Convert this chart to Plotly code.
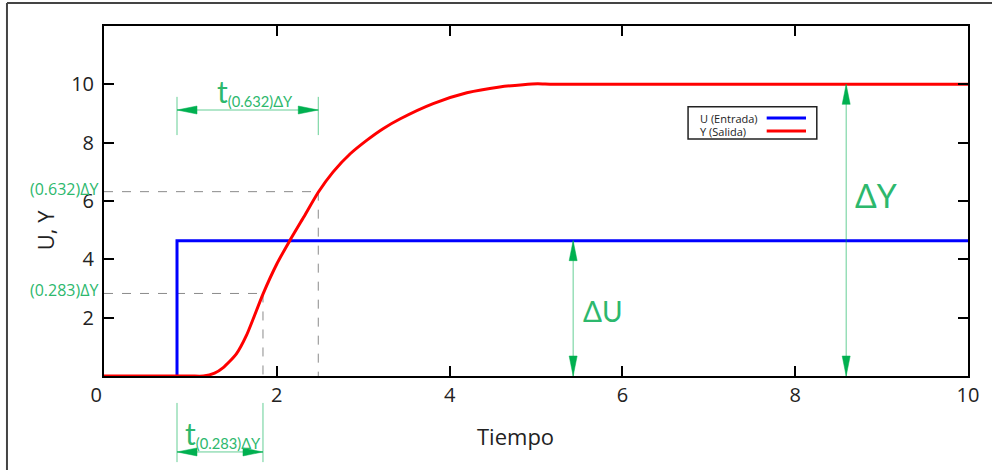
import plotly.graph_objects as go

# ---------------- data ----------------
t_u = [0.845, 0.845, 10.0]
u_vals = [0.0, 4.64, 4.64]

t_y = [0.0, 1.0, 1.15, 1.28, 1.38, 1.53, 1.65, 1.84, 2.0, 2.15, 2.31, 2.48, 2.65,
       2.85, 3.04, 3.23, 3.43, 3.81, 4.20, 4.58, 4.85, 5.02, 5.2, 10.0]
y_vals = [0.0, 0.0, 0.0, 0.1, 0.29, 0.75, 1.4, 2.81, 3.84, 4.64, 5.44, 6.30, 6.99,
          7.62, 8.08, 8.48, 8.82, 9.34, 9.71, 9.91, 9.99, 10.02, 10.0, 10.0]

x_ticks = [0, 2, 4, 6, 8, 10]
x_tick_text = ["0\u00a0\u00a0\u00a0", "2", "4", "6", "8", "10"]
y_ticks = [2, 4, 6, 8, 10]

t_step = 0.845          # time of the input step
delta_y = 10.0          # output change
delta_u = 4.64          # input change
fractions = [0.283, 0.632]
t_fractions = [1.84, 2.48]
level_labels = ["(0.283)ΔY", "(0.632)ΔY"]
time_labels = ["(0.283)ΔY", "(0.632)ΔY"]
series_names = ["U (Entrada)", "Y (Salida)"]

# ---------------- style ----------------
GREEN = "#00B050"
GREEN_TXT = "#2DB86D"
FONT = "Open Sans"
X_MAX, Y_MAX = 10, 12

fig = go.Figure()
fig.add_trace(go.Scatter(x=t_u, y=u_vals, mode="lines", name=series_names[0],
                         line=dict(color="#0000FF", width=3), showlegend=False))
fig.add_trace(go.Scatter(x=t_y, y=y_vals, mode="lines", name=series_names[1],
                         line=dict(color="#FF0000", width=3, shape="spline", smoothing=0.6),
                         showlegend=False))

shapes = []
annotations = []

# dashed guide lines
for f, tf in zip(fractions, t_fractions):
    lvl = f * delta_y
    shapes.append(dict(type="line", xref="x", yref="y", x0=0, x1=tf, y0=lvl, y1=lvl,
                       line=dict(color="#8a8a8a", width=1, dash="dash"), layer="below"))
    shapes.append(dict(type="line", xref="x", yref="y", x0=tf, x1=tf, y0=lvl, y1=0,
                       line=dict(color="#8a8a8a", width=1, dash="dash"), layer="below"))

HL, HW = 20, 4  # arrow head length / half width (px)


def head(x, y, direction, xref="x", yref="y"):
    paths = {
        "left": f"M0,0 L{HL},{HW} L{HL},{-HW} Z",
        "right": f"M0,0 L{-HL},{HW} L{-HL},{-HW} Z",
        "up": f"M0,0 L{-HW},{-HL} L{HW},{-HL} Z",
        "down": f"M0,0 L{-HW},{HL} L{HW},{HL} Z",
    }
    return dict(type="path", xref=xref, yref=yref, xsizemode="pixel", ysizemode="pixel",
                xanchor=x, yanchor=y, path=paths[direction],
                fillcolor=GREEN, line=dict(color=GREEN, width=0.5))


def h_arrow(x0, x1, y, yref="y"):
    shapes.append(dict(type="line", xref="x", yref=yref, x0=x0, x1=x1, y0=y, y1=y,
                       line=dict(color=GREEN, width=1), opacity=0.6))
    shapes.append(head(x0, y, "left", yref=yref))
    shapes.append(head(x1, y, "right", yref=yref))


def v_arrow(x, y0, y1):
    shapes.append(dict(type="line", xref="x", yref="y", x0=x, x1=x, y0=y0, y1=y1,
                       line=dict(color=GREEN, width=1), opacity=0.6))
    shapes.append(head(x, y1, "up"))
    shapes.append(head(x, y0, "down"))


# t(0.632) dimension (above the curve)
y_dim_hi = 9.12
for xx in (t_step, t_fractions[1]):
    shapes.append(dict(type="line", xref="x", yref="y", x0=xx, x1=xx, y0=8.26, y1=9.57,
                       line=dict(color=GREEN, width=1), opacity=0.6))
h_arrow(t_step, t_fractions[1], y_dim_hi)

# t(0.283) dimension (below the axis, paper y)
y_dim_lo = -0.217
for xx in (t_step, t_fractions[0]):
    shapes.append(dict(type="line", xref="x", yref="paper", x0=xx, x1=xx, y0=-0.077, y1=-0.246,
                       line=dict(color=GREEN, width=1), opacity=0.6))
h_arrow(t_step, t_fractions[0], y_dim_lo, yref="paper")

# vertical ΔU / ΔY arrows
x_du, x_dy = 5.43, 8.59
v_arrow(x_du, 0, delta_u)
v_arrow(x_dy, 0, delta_y)

# labels
sub = "<span style='font-size:21px'><sub>{}</sub></span>"
annotations.append(dict(x=(t_step + t_fractions[1]) / 2, y=y_dim_hi, xref="x", yref="y",
                        text="t" + sub.format(time_labels[1]), showarrow=False,
                        xanchor="center", yanchor="bottom", xshift=7, yshift=-2,
                        font=dict(family="Lato", size=30, color=GREEN_TXT)))
annotations.append(dict(x=(t_step + t_fractions[0]) / 2, y=y_dim_lo, xref="x", yref="paper",
                        text="t" + sub.format(time_labels[0]), showarrow=False,
                        xanchor="center", yanchor="bottom", xshift=3, yshift=-2,
                        font=dict(family="Lato", size=30, color=GREEN_TXT)))
for f, lab in zip(fractions, level_labels):
    annotations.append(dict(x=0, y=f * delta_y, xref="x", yref="y", text=lab, showarrow=False,
                            xanchor="right", yanchor="middle", xshift=-3, yshift=3,
                            font=dict(family=FONT, size=16, color=GREEN_TXT)))
annotations.append(dict(x=x_du + 0.35, y=delta_u * 0.48, xref="x", yref="y", text="ΔU",
                        xanchor="center", yanchor="middle",
                        showarrow=False, font=dict(family="Lato", size=28, color=GREEN_TXT)))
annotations.append(dict(x=x_dy + 0.34, y=6.2, xref="x", yref="y", text="ΔY",
                        xanchor="center", yanchor="middle",
                        showarrow=False, font=dict(family="Lato", size=32, color=GREEN_TXT)))

# axis titles
annotations.append(dict(x=-0.068, y=0.417, xref="paper", yref="paper", text="U, Y",
                        textangle=-90, showarrow=False, xanchor="center", yanchor="middle",
                        font=dict(family=FONT, size=22, color="#222")))
annotations.append(dict(x=0.476, y=-0.171, xref="paper", yref="paper", text="Tiempo",
                        showarrow=False, xanchor="center", yanchor="middle",
                        font=dict(family=FONT, size=22, color="#222")))

# custom legend
shapes.append(dict(type="rect", xref="paper", yref="paper", x0=0.676, x1=0.825, y0=0.677,
                   y1=0.769, line=dict(color="#222", width=1.5), fillcolor="white"))
for yy, col, name in ((0.737, "#0000FF", series_names[0]), (0.700, "#FF0000", series_names[1])):
    shapes.append(dict(type="line", xref="paper", yref="paper", x0=0.767, x1=0.8125,
                       y0=yy, y1=yy, line=dict(color=col, width=3)))
    annotations.append(dict(x=0.6875, y=yy, xref="paper", yref="paper", text=name,
                            showarrow=False, xanchor="left", yanchor="middle",
                            font=dict(family=FONT, size=11, color="#222")))

# outer frame
shapes.append(dict(type="line", xref="paper", yref="paper", x0=-0.1123, x1=1.05, y0=1.0657,
                   y1=1.0657, line=dict(color="#444", width=2)))
shapes.append(dict(type="line", xref="paper", yref="paper", x0=-0.1123, x1=-0.1123, y0=1.0657,
                   y1=-0.3, line=dict(color="#444", width=2)))

axis_common = dict(showgrid=False, zeroline=False, showline=True, linecolor="black",
                   linewidth=2, mirror="ticks", ticks="inside", ticklen=10, tickwidth=2,
                   tickcolor="black", tickfont=dict(family=FONT, size=20, color="#222"))

fig.update_layout(
    width=992, height=470,
    margin=dict(l=104, r=24, t=26, b=94),
    paper_bgcolor="white", plot_bgcolor="white",
    xaxis=dict(range=[0, X_MAX], tickvals=x_ticks, ticktext=x_tick_text, **axis_common),
    yaxis=dict(range=[0, Y_MAX], tickvals=y_ticks, ticklabelstandoff=4, **axis_common),
    shapes=shapes, annotations=annotations, showlegend=False,
)

fig.write_html("out.html")
